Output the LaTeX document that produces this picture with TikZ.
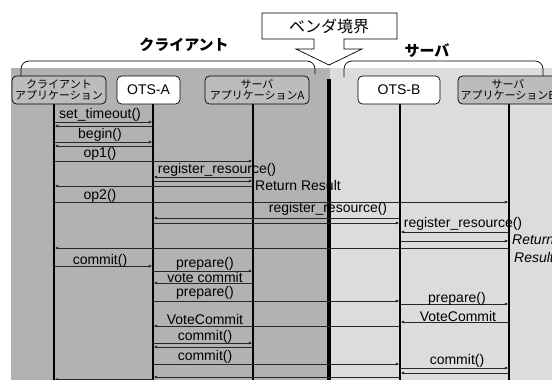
\documentclass[tikz,border=0pt]{standalone}
\usepackage{fontspec}
\setmainfont{Liberation Sans}
\newfontfamily\jp{Noto Sans CJK JP}
\usetikzlibrary{arrows.meta}
\definecolor{darkbg}{HTML}{B2B2B2}
\definecolor{lightbg}{HTML}{DCDCDC}
\definecolor{appfill}{HTML}{BCBCBC}
\begin{document}
\begin{tikzpicture}[x=1pt,y=-1pt,
  obj/.style={draw=black, line width=0.7pt, rounded corners=4.5pt, minimum height=28pt, inner sep=0pt, align=center},
  app/.style={obj, fill=appfill, font=\jp\fontsize{11}{11.5}\selectfont},
  ots/.style={obj, fill=white, font=\fontsize{14}{16}\selectfont},
  lifeline/.style={line width=1.3pt},
  msg/.style={line width=0.75pt, draw=black!85, -{Latex[length=3.5pt,width=3pt]}, shorten >=0.6pt},
  lbl/.style={font=\fontsize{14}{16}\selectfont, inner sep=0pt},
  ilbl/.style={font=\itshape\fontsize{14}{16}\selectfont, inner sep=0pt, anchor=west},
  title/.style={font=\jp\bfseries\fontsize{15}{18}\selectfont, inner sep=0pt},
  brace/.style={line width=0.7pt, rounded corners=8pt}
]
\useasboundingbox (0,0) rectangle (552,380);
\clip (0,0) rectangle (552,380);
% panels
\fill[darkbg] (11,68) rectangle (330,380);
\fill[lightbg] (330,68) rectangle (552,380);
% braces
\draw[brace] (21,77) -- (21,61) -- (315,61) -- (315,74);
\draw[brace] (344,77) -- (344,61) -- (543,61) -- (543,76);
% titles
\node[title] (tc) at (184,45) {クライアント};
\node[title] (ts) at (427,51) {サーバ};
% vendor boundary callout
\draw[line width=0.7pt, fill=white] (262,13) -- (397,13) -- (397,39) -- (344,39) -- (344,49) -- (362,49)
  -- (329,65) -- (296,49) -- (314,49) -- (314,39) -- (262,39) -- cycle;
\node[font=\jp\fontsize{16}{18}\selectfont, inner sep=0pt] (vb) at (329,26) {ベンダ境界};
% objects
\node[app, minimum width=94pt] (ca) at (59,90) {クライアント\\アプリケーション};
\node[ots, minimum width=63pt] (oa) at (148.5,90) {OTS-A};
\node[app, minimum width=104pt] (sa) at (257,90) {サーバ\\アプリケーションA};
\node[ots, minimum width=82pt] (ob) at (399,90) {OTS-B};
\node[app, minimum width=100pt] (sb) at (508,90) {サーバ\\アプリケーションB};
% lifeline tops
\coordinate (L1) at (54,104);
\coordinate (L2) at (153,104);
\coordinate (L3) at (253,104);
\coordinate (L4) at (400,104);
\coordinate (L5) at (509,104);
\coordinate (BD) at (329,79);
\foreach \c in {L1,L2,L3,L4,L5} \draw[lifeline] (\c) -- (\c |- 0,381);
\draw[line width=3.5pt] (BD) -- (BD |- 0,381);
% messages
\foreach \a/\b/\y in {L1/L2/122, L2/L1/126, L1/L2/142, L2/L1/146, L1/L3/161,
  L3/L2/177, L2/L3/181, L3/L1/186, L1/L5/202, L4/L2/218, L2/L4/223,
  L5/L4/232, L4/L5/241, L5/L1/248, L1/L2/266, L2/L3/271, L3/L2/283,
  L2/L4/301, L4/L5/304, L5/L4/322, L4/L2/326, L2/L3/343, L3/L2/347,
  L2/L4/364, L4/L5/368, L5/L4/373, L4/L2/377, L2/L1/379.5}
  \draw[msg] (\a |- 0,\y) -- (\b |- 0,\y);
% labels
\node[lbl] (m1) at (100,115) {set\_timeout()};
\node[lbl] (m2) at (100,135) {begin()};
\node[lbl] (m3) at (100,154) {op1()};
\node[lbl] (m4) at (217,170) {register\_resource()};
\node[lbl, anchor=west] (m5) at (255,185) {Return Result};
\node[lbl] (m6) at (100,196) {op2()};
\node[lbl] (m7) at (328,209) {register\_resource()};
\node[lbl] (m8) at (463,224) {register\_resource()};
\node[ilbl] (m9) at (512,240) {Return};
\node[ilbl] (m10) at (514,257) {Result};
\node[lbl] (m11) at (100,261) {commit()};
\node[lbl] (m12) at (205,264) {prepare()};
\node[lbl] (m13) at (205,277) {vote commit};
\node[lbl] (m14) at (205,293) {prepare()};
\node[lbl] (m15) at (457,299) {prepare()};
\node[lbl] (m16) at (458,316) {VoteCommit};
\node[lbl] (m17) at (205,319) {VoteCommit};
\node[lbl] (m18) at (205,337) {commit()};
\node[lbl] (m19) at (205,357) {commit()};
\node[lbl] (m20) at (457,361) {commit()};
\end{tikzpicture}
\end{document}
